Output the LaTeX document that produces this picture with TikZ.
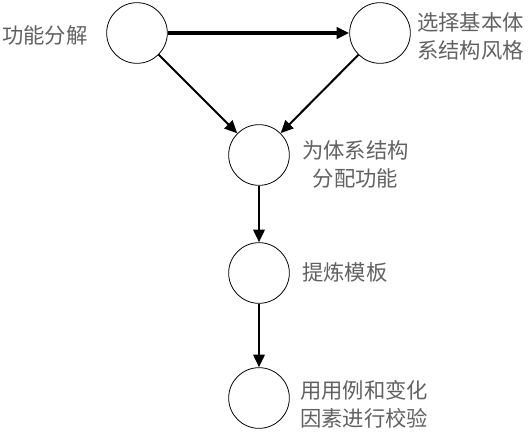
\documentclass[tikz,border=0pt]{standalone}
\usepackage{fontspec}
\newfontfamily\cjk{Noto Sans CJK SC}
\usetikzlibrary{arrows.meta}

\tikzset{
    stage/.style={circle,draw,line width=0.6pt,minimum size=45.5pt,inner sep=0},
    stagelabel/.style={anchor=west,inner sep=0,align=center,text=black!62,
        font=\cjk\fontsize{16pt}{21pt}\selectfont},
    flow/.style={line width=1.9pt,-{Triangle[length=9.5pt,width=8.5pt]}},
}

\begin{document}
\begin{tikzpicture}[x=0.75pt,y=-0.75pt]
    \useasboundingbox (0,0) rectangle (528,433);
    % stages
    \node[stage] (fenjie) at (137,33) {};
    \node[stage] (fengge) at (380,33) {};
    \node[stage] (fenpei) at (259,155) {};
    \node[stage] (moban) at (259,273) {};
    \node[stage] (jiaoyan) at (259,398) {};
    % labels
    \node[stagelabel] (fenjielbl) at (2,35) {功能分解};
    \node[stagelabel] (fenggelbl) at (417,36) {选择基本体\\系结构风格};
    \node[stagelabel] (fenpeilbl) at (302,164) {为体系结构\\分配功能};
    \node[stagelabel] (mobanlbl) at (302,272) {提炼模板};
    \node[stagelabel] (jiaoyanlbl) at (300,404) {用用例和变化\\因素进行校验};
    % connectors
    \draw[flow,line width=2.6pt] (fenjie) -- (fengge);
    \draw[flow,line width=1.5pt] (fenjie) -- (fenpei);
    \draw[flow,line width=1.5pt] (fengge) -- (fenpei);
    \draw[flow] (fenpei) -- (moban);
    \draw[flow] (moban) -- (jiaoyan);
\end{tikzpicture}
\end{document}
